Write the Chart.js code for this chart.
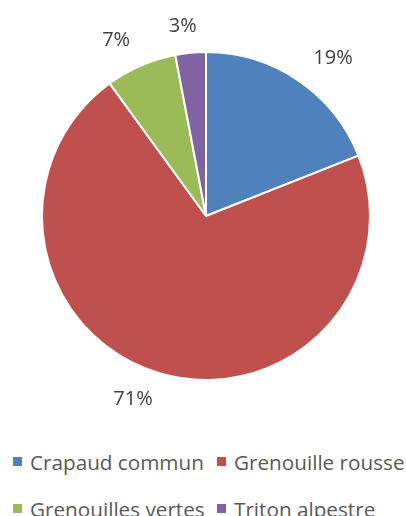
<!DOCTYPE html>
<html>
<head>
<meta charset="utf-8">
<script src="https://cdn.jsdelivr.net/npm/chart.js@4/dist/chart.umd.min.js"></script>
<style>
  body { margin: 0; background: #fff; }
  #wrap { position: relative; width: 406px; height: 516px; overflow: hidden; }
  #legend {
    position: absolute; left: 13px; top: 443px;
    display: grid; grid-template-columns: 204px auto; grid-auto-rows: 47px;
    font-family: "Open Sans", sans-serif; font-size: 20.7px; color: #595959;
  }
  .item { display: flex; align-items: center; height: 37px; white-space: nowrap; }
  .box { width: 9px; height: 9px; margin-right: 8px; flex: none; }
</style>
</head>
<body>
<div id="wrap">
  <canvas id="pieChart" width="406" height="430"></canvas>
  <div id="legend"></div>
</div>
<script>
const species = ['Crapaud commun', 'Grenouille rousse', 'Grenouilles vertes', 'Triton alpestre'];
const shares = [19, 71, 7, 3];
const colors = ['#4F81BD', '#C0504D', '#9BBB59', '#8064A2'];

document.addEventListener('DOMContentLoaded', function () {
    const canvas = document.getElementById('pieChart');
    const ctx = canvas.getContext('2d');

    // percent labels outside each slice, pushed out like Excel's best fit
    const outsideLabels = {
        id: 'outsideLabels',
        afterDatasetsDraw(chart) {
            const meta = chart.getDatasetMeta(0);
            const total = shares.reduce((a, b) => a + b, 0);
            ctx.save();
            ctx.font = '20px "Open Sans", sans-serif';
            ctx.fillStyle = '#404040';
            ctx.textAlign = 'center';
            ctx.textBaseline = 'middle';
            meta.data.forEach((arc, i) => {
                const text = Math.round(shares[i] / total * 100) + '%';
                const w = ctx.measureText(text).width;
                const mid = (arc.startAngle + arc.endAngle) / 2;
                const dx = Math.cos(mid), dy = Math.sin(mid);
                const r = arc.outerRadius + 27;
                const shift = Math.sign(dx) * w / 2 * Math.min(1, Math.abs(dx) * 4);
                ctx.fillText(text, arc.x + dx * r + shift, arc.y + dy * r);
            });
            ctx.restore();
        }
    };

    const chart = new Chart(ctx, {
        type: 'pie',
        data: {
            labels: species,
            datasets: [{
                data: shares,
                backgroundColor: colors,
                borderColor: '#ffffff',
                borderWidth: 2
            }]
        },
        options: {
            responsive: false,
            animation: false,
            layout: { padding: { top: 51, bottom: 49, left: 41, right: 35 } },
            plugins: {
                legend: { display: false },
                tooltip: { enabled: false }
            }
        },
        plugins: [outsideLabels]
    });

    const legend = document.getElementById('legend');
    chart.data.labels.forEach((label, i) => {
        const item = document.createElement('div');
        item.className = 'item';
        const box = document.createElement('span');
        box.className = 'box';
        box.style.background = chart.data.datasets[0].backgroundColor[i];
        const text = document.createElement('span');
        text.textContent = label;
        item.appendChild(box);
        item.appendChild(text);
        legend.appendChild(item);
    });
});
</script>
</body>
</html>
